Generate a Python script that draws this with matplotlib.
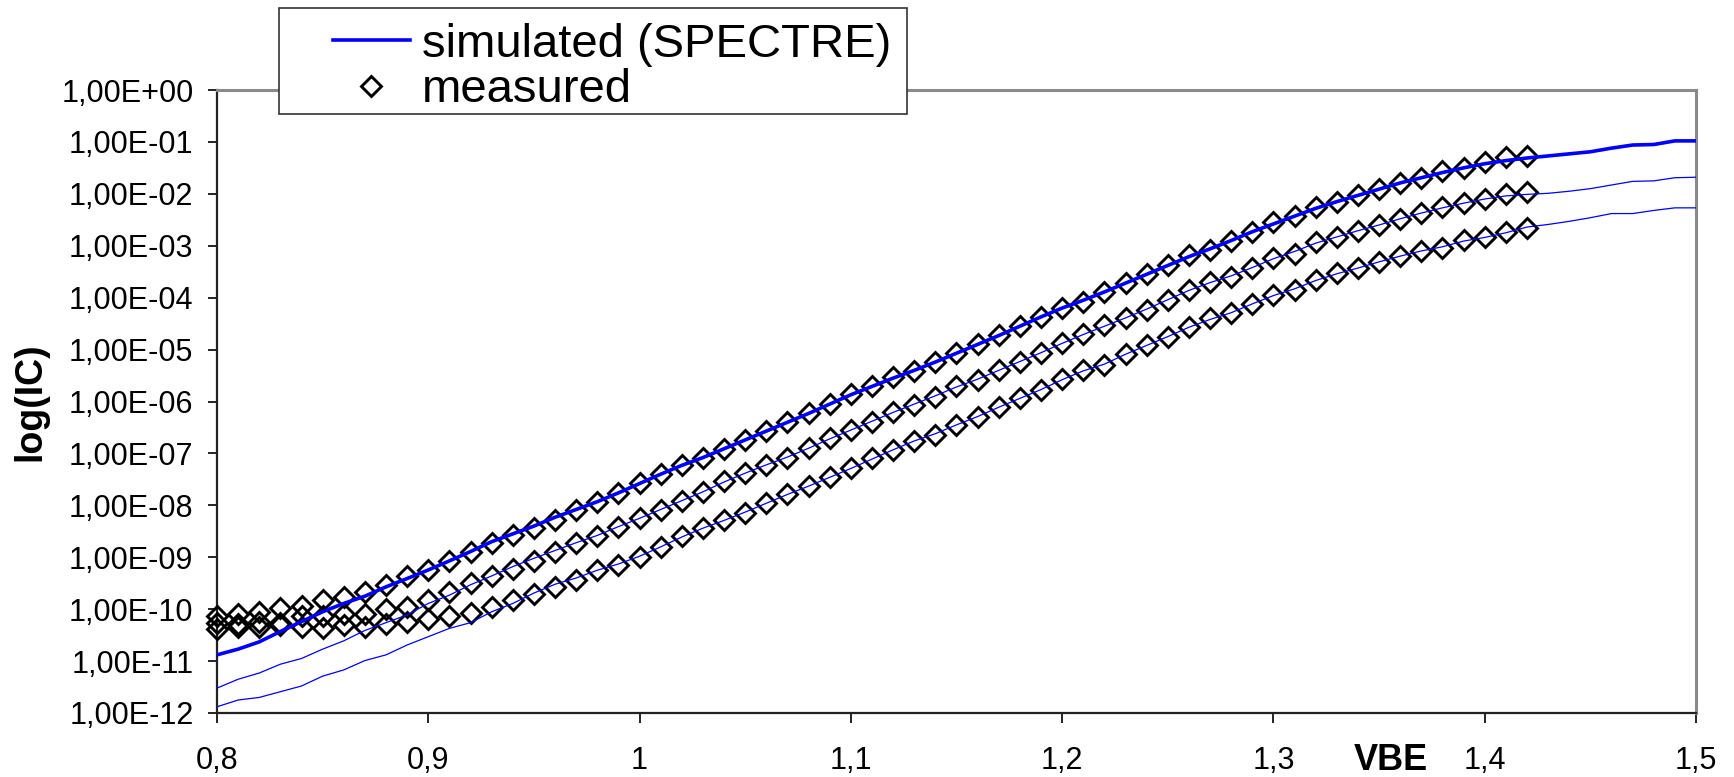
import matplotlib
matplotlib.use("Agg")
import matplotlib.pyplot as plt
from matplotlib.patches import Rectangle
import numpy as np

# ---- data: log10 of collector current (A) versus base-emitter voltage (V) ----
vbe_sim = [0.80, 0.81, 0.82, 0.83, 0.84, 0.85, 0.86, 0.87, 0.88, 0.89,
           0.90, 0.91, 0.92, 0.93, 0.94, 0.95, 0.96, 0.97, 0.98, 0.99,
           1.00, 1.01, 1.02, 1.03, 1.04, 1.05, 1.06, 1.07, 1.08, 1.09,
           1.10, 1.11, 1.12, 1.13, 1.14, 1.15, 1.16, 1.17, 1.18, 1.19,
           1.20, 1.21, 1.22, 1.23, 1.24, 1.25, 1.26, 1.27, 1.28, 1.29,
           1.30, 1.31, 1.32, 1.33, 1.34, 1.35, 1.36, 1.37, 1.38, 1.39,
           1.40, 1.41, 1.42, 1.43, 1.44, 1.45, 1.46, 1.47, 1.48, 1.49, 1.50]

log_ic_sim_1 = [-10.88, -10.77, -10.63, -10.43, -10.24, -10.05, -9.89, -9.75, -9.57, -9.41,
                -9.245, -9.07, -8.89, -8.70, -8.55, -8.40, -8.23, -8.08, -7.93, -7.76,
                -7.58, -7.40, -7.23, -7.08, -6.91, -6.74, -6.57, -6.40, -6.23, -6.05,
                -5.87, -5.71, -5.55, -5.40, -5.24, -5.07, -4.90, -4.73, -4.55, -4.37,
                -4.20, -4.05, -3.89, -3.72, -3.55, -3.38, -3.21, -3.06, -2.90, -2.73,
                -2.58, -2.43, -2.28, -2.15, -2.03, -1.91, -1.79, -1.69, -1.59, -1.50,
                -1.42, -1.36, -1.31, -1.27, -1.23, -1.19, -1.12, -1.06, -1.05, -0.98, -0.98]

log_ic_sim_2 = [-11.52, -11.35, -11.23, -11.06, -10.95, -10.77, -10.61, -10.41, -10.26, -10.11,
                -9.89, -9.73, -9.53, -9.36, -9.18, -9.02, -8.87, -8.72, -8.58, -8.41,
                -8.25, -8.08, -7.91, -7.74, -7.55, -7.38, -7.22, -7.07, -6.90, -6.72,
                -6.55, -6.38, -6.21, -6.05, -5.89, -5.72, -5.57, -5.40, -5.23, -5.06,
                -4.88, -4.71, -4.55, -4.39, -4.22, -4.04, -3.86, -3.71, -3.58, -3.42,
                -3.25, -3.11, -2.95, -2.83, -2.71, -2.60, -2.48, -2.37, -2.27, -2.18,
                -2.10, -2.04, -2.01, -1.99, -1.95, -1.90, -1.83, -1.76, -1.75, -1.69, -1.68]

log_ic_sim_3 = [-11.88, -11.75, -11.70, -11.59, -11.48, -11.29, -11.17, -10.99, -10.88, -10.69,
                -10.53, -10.37, -10.26, -10.05, -9.89, -9.69, -9.52, -9.40, -9.25, -9.13,
                -8.98, -8.80, -8.61, -8.44, -8.29, -8.13, -7.96, -7.79, -7.63, -7.46,
                -7.29, -7.11, -6.93, -6.76, -6.62, -6.45, -6.29, -6.11, -5.94, -5.77,
                -5.58, -5.41, -5.28, -5.09, -4.92, -4.75, -4.57, -4.42, -4.29, -4.12,
                -3.96, -3.83, -3.67, -3.54, -3.43, -3.31, -3.20, -3.10, -3.02, -2.91,
                -2.84, -2.75, -2.64, -2.59, -2.53, -2.46, -2.38, -2.38, -2.32, -2.27, -2.27]

vbe_meas = [0.80, 0.81, 0.82, 0.83, 0.84, 0.85, 0.86, 0.87, 0.88, 0.89,
            0.90, 0.91, 0.92, 0.93, 0.94, 0.95, 0.96, 0.97, 0.98, 0.99,
            1.00, 1.01, 1.02, 1.03, 1.04, 1.05, 1.06, 1.07, 1.08, 1.09,
            1.10, 1.11, 1.12, 1.13, 1.14, 1.15, 1.16, 1.17, 1.18, 1.19,
            1.20, 1.21, 1.22, 1.23, 1.24, 1.25, 1.26, 1.27, 1.28, 1.29,
            1.30, 1.31, 1.32, 1.33, 1.34, 1.35, 1.36, 1.37, 1.38, 1.39,
            1.40, 1.41, 1.42]

log_ic_meas_1 = [-10.14, -10.09, -10.05, -9.98, -9.94, -9.82, -9.76, -9.66, -9.53, -9.37,
                 -9.245, -9.08, -8.89, -8.72, -8.57, -8.44, -8.28, -8.09, -7.93, -7.77,
                 -7.575, -7.395, -7.22, -7.09, -6.92, -6.74, -6.56, -6.39, -6.23, -6.05,
                 -5.855, -5.70, -5.53, -5.42, -5.23, -5.07, -4.90, -4.72, -4.545, -4.37,
                 -4.19, -4.08, -3.90, -3.72, -3.54, -3.37, -3.18, -3.08, -2.91, -2.73,
                 -2.54, -2.42, -2.26, -2.15, -2.02, -1.91, -1.80, -1.69, -1.56, -1.51,
                 -1.38, -1.30, -1.27]

log_ic_meas_2 = [-10.27, -10.28, -10.24, -10.27, -10.14, -10.14, -10.09, -10.09, -10.00, -9.95,
                 -9.82, -9.66, -9.50, -9.36, -9.23, -9.07, -8.89, -8.73, -8.60, -8.41,
                 -8.25, -8.09, -7.91, -7.74, -7.54, -7.37, -7.22, -7.09, -6.90, -6.71,
                 -6.55, -6.39, -6.20, -6.06, -5.91, -5.71, -5.59, -5.39, -5.23, -5.06,
                 -4.88, -4.70, -4.53, -4.40, -4.24, -4.04, -3.85, -3.69, -3.60, -3.43,
                 -3.24, -3.15, -2.93, -2.83, -2.72, -2.60, -2.48, -2.37, -2.25, -2.18,
                 -2.09, -2.01, -1.97]

log_ic_meas_3 = [-10.39, -10.34, -10.34, -10.30, -10.34, -10.37, -10.30, -10.34, -10.28, -10.24,
                 -10.19, -10.13, -10.07, -9.95, -9.82, -9.71, -9.58, -9.43, -9.245, -9.15,
                 -8.99, -8.80, -8.60, -8.44, -8.28, -8.14, -7.96, -7.78, -7.63, -7.45,
                 -7.29, -7.09, -6.93, -6.76, -6.64, -6.45, -6.29, -6.10, -5.94, -5.77,
                 -5.57, -5.39, -5.30, -5.08, -4.91, -4.75, -4.56, -4.40, -4.30, -4.12,
                 -3.95, -3.85, -3.66, -3.53, -3.42, -3.31, -3.19, -3.10, -3.05, -2.89,
                 -2.84, -2.73, -2.66]

x_tick_values = [0.8, 0.9, 1.0, 1.1, 1.2, 1.3, 1.4, 1.5]
x_tick_labels = ["0,8", "0,9", "1", "1,1", "1,2", "1,3", "1,4", "1,5"]
y_tick_values = [1e0, 1e-1, 1e-2, 1e-3, 1e-4, 1e-5, 1e-6, 1e-7, 1e-8, 1e-9, 1e-10, 1e-11, 1e-12]
y_tick_labels = ["1,00E+00", "1,00E-01", "1,00E-02", "1,00E-03", "1,00E-04", "1,00E-05",
                 "1,00E-06", "1,00E-07", "1,00E-08", "1,00E-09", "1,00E-10", "1,00E-11",
                 "1,00E-12"]

# ---- figure ----
W, H = 1734, 777
plt.rcParams["font.family"] = ["Liberation Sans", "DejaVu Sans"]
fig = plt.figure(figsize=(W / 100, H / 100), dpi=100)
fig.patch.set_facecolor("white")

ax_l, ax_r, ax_t, ax_b = 217, 1696, 90, 713
ax = fig.add_axes([ax_l / W, 1 - ax_b / H, (ax_r - ax_l) / W, (ax_b - ax_t) / H])

blue = "#0000ff"
sim_widths = [2.6, 0.9, 0.9]
sim_lines = []
for series, lw in zip([log_ic_sim_1, log_ic_sim_2, log_ic_sim_3], sim_widths):
    ln, = ax.plot(vbe_sim, 10.0 ** np.asarray(series), color=blue, lw=lw,
                  solid_joinstyle="round", zorder=4)
    sim_lines.append(ln)

meas_marks = []
for series in [log_ic_meas_1, log_ic_meas_2, log_ic_meas_3]:
    mk, = ax.plot(vbe_meas, 10.0 ** np.asarray(series), ls="none", marker="D",
                  ms=10.3, mfc="none", mec="black", mew=2.1, zorder=3,
                  clip_on=False)
    meas_marks.append(mk)

ax.set_yscale("log")
ax.set_xlim(0.8, 1.5)
ax.set_ylim(1e-12, 1e0)
ax.set_xticks(x_tick_values)
ax.set_xticklabels(x_tick_labels)
ax.set_yticks(y_tick_values)
ax.set_yticklabels(y_tick_labels)
ax.minorticks_off()
ax.tick_params(axis="x", direction="out", length=7.5, width=1.2, pad=16.5,
               labelsize=22, colors="black")
ax.tick_params(axis="y", direction="out", length=6.5, width=1.2, pad=10.5,
               labelsize=22, colors="black")

for side in ("left", "bottom"):
    ax.spines[side].set_color("#222222")
    ax.spines[side].set_linewidth(1.6)
for side in ("top", "right"):
    ax.spines[side].set_color("#8a8a8a")
    ax.spines[side].set_linewidth(2.2)

ax.set_ylabel("log(IC)", fontsize=27, fontweight="bold", va="center", ha="center")
ax.yaxis.set_label_coords((30 - ax_l) / (ax_r - ax_l), 0.5)
ax.set_xlabel("VBE", fontsize=26, fontweight="bold", va="center", ha="center")
ax.xaxis.set_label_coords((1391 - ax_l) / (ax_r - ax_l), (ax_b - 760) / (ax_b - ax_t))

# legend box sits over the top edge of the plot frame
box_l, box_t, box_r, box_b = 279, 8, 907, 114
fig.patches.append(Rectangle((box_l / W, 1 - box_b / H), (box_r - box_l) / W,
                             (box_b - box_t) / H, transform=fig.transFigure,
                             facecolor="white", edgecolor="#333333", lw=1.2,
                             zorder=4))
fig.legend([sim_lines[0], meas_marks[0]], ["simulated (SPECTRE)", "measured"],
           loc="upper left", bbox_to_anchor=(333 / W, 1 - 23 / H),
           bbox_transform=fig.transFigure, frameon=False, fontsize=34,
           handlelength=1.63, handletextpad=0.25, borderpad=0.0,
           borderaxespad=0.0, labelspacing=0.03).set_zorder(5)

fig.savefig("out.png", dpi=100, facecolor="white")
